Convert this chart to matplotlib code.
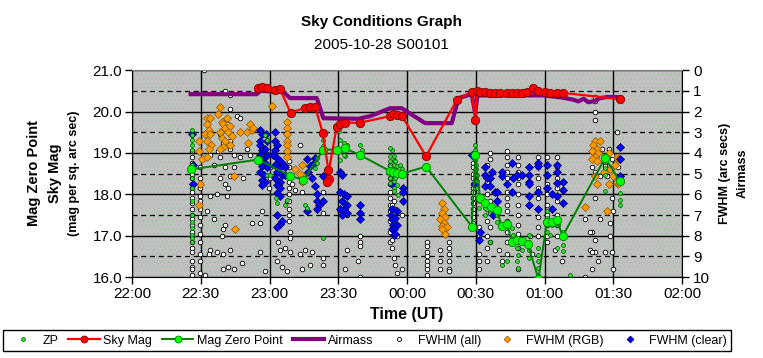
import matplotlib.pyplot as plt
from matplotlib.lines import Line2D
from matplotlib.patches import Rectangle
from matplotlib.ticker import MultipleLocator, FormatStrFormatter

plt.rcParams['font.family'] = ['Liberation Sans', 'DejaVu Sans']
plt.rcParams['hatch.linewidth'] = 0.5

# times are minutes after 22:00 UT
time_ticks = [0, 30, 60, 90, 120, 150, 180, 210, 240]
time_labels = ['22:00', '22:30', '23:00', '23:30', '00:00', '00:30', '01:00', '01:30', '02:00']

# Sky Mag (mag per sq. arc sec)
sky_t = [55.0, 56.6, 58.8, 62.4, 64.6, 69.2, 75.5, 77.7, 79.9, 83.2, 85.7, 86.1, 85.0, 89.3, 90.8, 92.9, 99.5,
         112.6, 114.0, 115.5, 117.7, 128.3, 141.7, 148.3, 149.7, 150.4, 151.9, 154.0, 156.2, 158.4, 160.6,
         163.5, 165.7, 167.9, 170.0, 172.3, 174.8, 177.3, 180.2, 182.4, 185.3, 188.2, 212.9]
sky_mag = [20.57, 20.60, 20.58, 20.53, 20.54, 19.97, 20.09, 20.11, 20.11, 19.49, 18.58, 18.38, 18.30, 19.63, 19.70, 19.73, 19.73,
           19.89, 19.93, 19.91, 19.90, 18.92, 20.28, 20.48, 19.79, 20.49, 20.48, 20.47, 20.46, 20.45, 20.44,
           20.45, 20.45, 20.45, 20.46, 20.48, 20.56, 20.50, 20.47, 20.46, 20.46, 20.45, 20.30]

# Mag Zero Point
mzp_t = [25.6, 55.0, 68.9, 74.8, 83.5, 89.3, 92.9, 99.5, 112.6, 113.9, 115.5, 117.7, 128.3,
         148.3, 149.7, 151.9, 154.0, 156.7, 159.1, 161.3, 163.5, 165.7, 167.9, 170.0, 172.7,
         177.3, 181.0, 183.1, 185.3, 187.9, 206.4, 212.9]
mzp_v = [18.60, 18.84, 18.45, 18.35, 19.08, 19.08, 19.11, 18.95, 18.56, 18.54, 18.52, 18.50, 18.67,
         17.22, 18.95, 17.90, 17.78, 17.70, 17.62, 17.23, 17.28, 16.85, 16.89, 16.88, 16.80,
         15.95, 17.34, 17.32, 17.38, 16.99, 18.88, 18.31]

# Airmass (right axis)
am_t = [25.6, 54.4, 56.0, 66.0, 69.0, 80.6, 83.5, 98.8, 104.0, 112.6, 117.7, 127.9, 139.5, 142.4,
        148.2, 149.7, 150.7, 179.5, 187.5, 192.6, 194.8, 197.0, 199.1, 202.0, 204.2, 207.1, 212.9]
am_v = [1.16, 1.16, 1.0, 1.06, 1.35, 1.35, 2.32, 2.35, 2.22, 1.84, 1.84, 2.56, 2.56, 1.35,
        1.16, 2.08, 1.22, 1.22, 1.32, 1.43, 1.51, 1.38, 1.55, 1.48, 1.35, 1.30, 1.30]

# ZP per frame (time, mag)
zp = [(26.1, 19.56), (26.1, 19.44), (26.1, 19.32), (26.1, 19.20), (26.1, 19.08), (26.1, 18.71), (26.1, 18.39),
      (26.1, 18.15), (26.1, 17.83), (26.1, 17.51), (26.1, 17.34), (26.1, 17.18), (26.1, 17.02), (26.1, 16.94),
      (26.1, 16.86), (58.1, 19.44), (58.8, 19.32), (58.8, 18.47), (60.3, 18.47), (62.9, 17.91), (63.2, 17.79),
      (66.8, 17.75), (67.6, 17.87), (83.5, 19.32), (83.5, 19.16), (83.5, 16.94), (80.6, 18.88), (80.6, 18.76),
      (75.5, 17.75), (76.3, 17.67), (79.9, 18.63), (90.8, 19.32), (92.3, 19.24), (93.7, 19.20), (90.8, 19.04),
      (93.0, 18.92), (90.8, 18.84), (92.3, 18.96), (90.1, 19.52), (99.5, 19.20), (100.3, 19.08),
      (112.6, 18.92), (112.6, 18.80), (112.6, 18.68), (112.6, 18.56), (112.6, 18.39), (112.6, 18.27),
      (114.1, 18.84), (114.1, 18.72), (114.1, 18.60), (114.1, 18.47), (114.1, 18.31), (114.1, 18.15),
      (113.3, 19.08), (114.1, 18.92), (114.8, 18.80), (115.5, 18.68), (116.2, 18.55), (117.0, 18.71),
      (117.7, 18.60), (118.4, 18.47), (114.8, 18.39), (115.5, 18.23), (114.1, 18.07), (116.2, 17.99),
      (112.6, 19.12), (149.7, 19.20), (149.7, 19.08), (149.7, 18.96), (149.7, 18.84), (150.1, 18.71),
      (150.1, 18.60), (150.4, 18.47), (150.7, 18.31), (150.7, 18.15), (150.7, 17.99), (151.2, 17.83),
      (151.2, 17.67), (154.1, 17.67), (154.1, 17.51), (156.3, 16.86), (156.3, 17.59), (159.1, 17.67),
      (159.1, 17.51), (159.1, 17.34), (161.3, 17.22), (165.7, 17.18), (166.4, 17.02), (167.1, 16.86),
      (167.9, 16.70), (168.6, 16.54), (167.9, 16.38), (168.6, 16.22), (170.0, 16.86), (170.0, 16.66),
      (173.0, 17.02), (173.0, 16.86), (173.0, 16.66), (173.0, 16.46), (177.3, 16.70), (177.3, 16.54),
      (177.3, 16.38), (177.3, 16.22), (177.3, 16.06), (181.0, 17.59), (181.0, 17.43), (181.0, 17.27),
      (181.0, 17.10), (182.4, 17.02), (183.1, 17.27), (188.2, 17.10), (188.2, 16.94), (188.2, 16.78),
      (188.2, 16.62), (186.0, 17.27), (185.3, 16.70), (191.1, 16.06), (163.5, 16.38), (161.3, 16.30),
      (206.4, 18.96), (206.4, 18.80), (206.4, 18.63), (206.4, 18.47), (206.4, 18.07), (212.9, 18.03),
      (212.9, 17.87), (212.9, 17.75), (212.9, 18.27)]

# FWHM, all frames (time, arc secs)
fwhm_all = [(26.1, 3.9), (26.1, 4.2), (26.1, 4.5), (26.1, 4.7), (26.1, 5.0), (26.1, 5.2), (26.1, 5.5),
            (26.1, 5.7), (26.1, 5.9), (26.1, 6.2), (26.1, 6.4), (26.1, 6.7), (26.1, 7.0), (26.1, 7.2),
            (26.1, 7.5), (26.1, 7.8), (26.1, 8.0), (26.1, 8.3), (26.1, 8.6), (26.1, 8.8), (26.1, 9.2),
            (26.1, 9.5), (26.1, 9.6), (26.1, 9.9), (29.7, 4.7), (29.7, 5.2), (29.7, 5.7), (29.7, 6.1),
            (29.7, 6.3), (29.7, 6.7), (29.7, 7.1), (29.7, 7.5), (29.7, 7.9), (29.7, 8.3), (29.7, 8.9),
            (29.7, 9.2), (29.7, 9.8), (31.5, 0.0), (40.6, 1.0), (42.8, 1.2),
            (34.1, 4.1), (35.6, 4.6), (38.5, 4.2), (40.6, 4.7), (42.8, 5.1), (38.5, 5.2), (40.6, 5.5),
            (42.1, 5.7), (37.0, 6.0), (41.4, 6.1), (34.1, 6.1), (32.6, 6.8), (35.6, 7.2), (40.6, 7.5),
            (39.9, 7.7), (39.2, 8.0), (34.1, 8.7), (33.4, 8.9), (37.0, 8.8), (39.9, 8.9), (42.8, 8.7),
            (42.1, 9.5), (39.9, 9.6), (44.3, 9.6), (47.9, 9.3), (31.9, 9.9), (45.7, 2.2), (47.2, 2.3),
            (44.3, 4.7), (47.2, 4.2), (50.1, 3.8), (48.6, 5.2), (51.6, 4.1), (52.3, 7.4), (55.9, 7.4),
            (56.6, 6.8), (58.1, 9.7), (63.9, 8.3), (64.7, 8.7), (63.2, 9.2), (65.4, 9.5),
            (38.5, 3.1), (39.9, 3.5), (42.8, 3.8), (37.7, 3.9), (44.3, 4.1), (42.8, 3.4), (42.8, 1.9),
            (41.4, 2.6), (56.6, 5.4), (57.4, 5.5), (59.6, 5.7), (60.3, 4.7), (55.9, 8.8), (60.3, 5.2),
            (64.7, 5.5), (67.6, 6.3), (68.3, 4.4), (68.3, 4.7), (68.3, 5.1), (68.3, 5.4), (68.3, 5.7),
            (68.3, 6.0), (68.3, 6.3), (68.3, 6.7), (68.3, 7.0), (68.3, 7.3), (69.0, 7.8), (69.0, 8.1),
            (69.0, 8.8), (66.8, 8.6), (75.5, 8.7), (73.3, 8.9), (78.4, 8.8), (77.7, 9.4), (74.1, 9.6),
            (67.5, 9.7), (93.7, 8.7), (99.5, 8.0), (99.5, 8.3), (99.5, 8.5), (98.8, 9.2), (99.5, 10.0),
            (93.0, 9.6), (83.5, 9.1), (83.5, 9.4), (73.3, 3.6), (69.7, 5.5), (71.2, 5.8), (74.1, 5.9),
            (83.5, 5.9), (83.5, 6.3), (83.5, 6.9), (90.1, 6.7), (93.7, 7.0),
            (112.6, 4.6), (112.6, 4.9), (112.6, 5.2), (112.6, 5.5), (112.6, 5.9), (112.6, 6.2),
            (112.6, 6.5), (112.6, 6.8), (112.6, 7.3), (112.6, 7.8), (112.6, 8.3), (114.1, 6.3),
            (114.8, 6.7), (117.7, 7.0), (113.3, 6.5), (115.5, 8.0), (113.3, 8.2), (114.1, 9.1),
            (114.8, 9.4), (115.5, 9.8), (117.7, 9.6), (113.3, 8.6),
            (128.6, 8.3), (128.6, 8.5), (128.6, 8.8), (128.6, 9.0), (128.6, 9.2), (128.6, 9.4),
            (128.6, 9.6), (128.6, 9.9), (134.4, 8.7), (134.4, 9.2), (134.4, 9.6), (138.1, 8.3),
            (138.1, 8.6), (138.1, 8.9), (138.1, 9.2), (138.1, 9.6), (138.1, 9.7),
            (148.7, 4.5), (148.7, 4.7), (148.7, 5.0), (148.7, 5.2), (148.7, 5.5), (148.7, 5.7),
            (148.7, 5.9), (148.7, 6.2), (148.7, 6.4), (148.7, 6.7), (148.7, 6.9), (148.7, 7.1),
            (148.7, 7.4), (151.6, 7.6), (151.6, 8.0), (151.6, 8.2), (151.6, 8.9), (151.6, 9.2),
            (151.6, 9.6), (154.8, 4.6), (154.8, 5.4), (154.8, 6.0), (154.8, 6.7), (154.8, 7.3),
            (154.8, 8.0), (154.8, 8.6), (154.8, 9.2), (156.3, 4.0), (156.3, 4.3), (156.3, 6.3),
            (156.3, 6.9), (156.3, 7.6), (156.3, 8.3),
            (163.8, 3.9), (163.8, 4.2), (163.8, 4.6), (163.8, 4.9), (163.8, 5.2), (163.8, 5.5),
            (163.8, 5.9), (163.8, 6.2), (163.8, 6.5), (163.8, 6.8), (163.8, 7.3), (163.8, 7.8),
            (163.8, 8.3), (163.8, 8.9), (168.6, 4.2), (168.6, 4.6), (168.6, 4.9), (168.6, 5.2),
            (168.6, 5.5), (168.6, 6.0), (168.6, 6.5), (168.6, 7.0), (168.6, 7.5), (168.6, 7.9),
            (168.6, 8.6), (168.6, 9.6), (177.3, 4.2), (177.3, 4.7), (177.3, 5.2), (177.3, 5.7),
            (177.3, 6.2), (177.3, 6.7), (177.3, 7.1), (177.3, 7.6), (177.3, 8.0), (181.0, 4.2),
            (181.0, 4.6), (181.0, 5.1), (181.0, 5.5), (181.0, 6.0), (181.0, 6.5), (181.0, 7.0),
            (181.0, 7.5), (181.0, 8.0), (181.0, 8.3), (185.3, 4.2), (185.3, 4.7), (185.3, 5.2),
            (185.3, 5.7), (185.3, 6.3), (185.3, 7.0), (185.3, 7.5), (185.3, 8.0),
            (202.0, 1.3), (202.0, 1.5), (202.0, 2.0), (202.0, 2.4), (200.6, 4.7), (202.0, 4.9),
            (204.2, 5.1), (200.6, 7.8), (202.0, 8.8), (203.5, 9.2), (200.6, 9.6), (197.7, 10.0),
            (159.9, 8.7), (161.3, 9.2), (173.7, 8.0), (174.4, 8.9), (184.6, 8.7), (187.5, 9.2),
            (211.5, 3.0), (204.9, 3.8), (207.9, 3.8), (209.3, 4.1), (209.3, 4.3), (206.4, 4.5),
            (206.4, 4.65), (206.4, 4.8), (206.4, 5.0), (207.1, 5.1), (202.0, 5.1), (212.2, 4.7),
            (210.8, 5.1), (202.0, 6.2), (209.3, 6.2), (210.0, 6.8), (197.7, 7.2), (204.2, 7.2),
            (199.8, 7.8), (208.6, 8.0), (202.0, 8.2), (199.8, 8.7), (200.6, 8.8), (206.4, 8.8),
            (209.3, 8.8), (210.0, 9.6), (208.6, 7.4)]

# FWHM, RGB frames
fwhm_rgb = [(29.4, 3.4), (29.4, 3.9), (30.5, 4.3), (29.7, 5.5), (29.4, 6.5),
            (32.6, 2.3), (34.1, 2.3), (32.6, 2.6), (33.4, 2.9), (31.9, 3.1), (34.1, 3.1), (32.6, 3.4),
            (34.4, 3.6), (33.4, 3.8), (32.6, 4.2), (38.5, 1.8), (37.7, 2.1), (39.2, 2.5), (39.9, 2.6),
            (41.4, 2.3), (40.6, 2.8), (38.5, 3.0), (42.8, 2.7), (42.1, 3.0), (43.6, 3.2), (39.2, 3.3),
            (40.6, 3.4), (39.9, 3.7), (42.8, 3.6), (38.5, 3.8), (44.3, 5.1), (45.0, 7.7),
            (47.2, 3.0), (50.1, 3.0), (51.6, 2.6), (52.3, 2.9), (50.8, 3.5), (53.0, 2.8), (61.0, 1.75),
            (67.5, 2.5), (67.5, 2.8), (67.5, 3.1), (67.5, 3.4), (67.5, 3.6), (67.5, 3.9), (67.5, 4.2),
            (71.2, 4.8), (74.1, 4.6), (74.8, 5.1), (74.1, 5.4), (73.3, 5.0),
            (135.2, 6.4), (135.9, 6.7), (135.2, 6.9), (136.6, 7.1), (134.4, 7.2), (135.9, 7.4),
            (135.2, 7.55), (137.3, 7.6), (136.6, 7.9), (135.2, 7.7),
            (202.0, 3.4), (204.2, 3.4), (201.3, 3.6), (202.8, 3.8), (200.6, 3.9), (203.5, 4.0),
            (202.0, 4.2), (200.6, 4.3), (202.8, 4.4), (202.0, 5.1), (202.8, 5.5), (197.7, 6.6),
            (207.9, 4.0), (205.7, 4.9), (207.9, 5.5), (208.6, 4.8), (210.8, 4.6), (211.5, 4.2),
            (212.2, 4.3), (212.2, 5.5), (207.1, 6.8), (210.0, 5.1), (211.5, 5.4)]

# FWHM, clear frames
fwhm_clear = [(26.1, 3.1), (26.8, 4.6), (26.4, 5.5),
              (55.9, 2.9), (56.6, 3.1), (55.9, 3.4), (58.5, 3.1), (55.9, 3.6), (56.6, 3.85), (58.1, 3.8),
              (55.9, 4.1), (57.4, 4.25), (55.9, 4.4), (58.1, 4.5), (56.6, 4.65), (58.8, 4.7), (55.9, 4.9),
              (57.4, 5.05), (56.6, 5.3), (58.1, 5.4), (56.6, 5.55), (59.1, 3.4), (59.1, 4.1),
              (62.5, 3.0), (62.5, 3.4), (63.2, 3.6), (62.5, 3.85), (61.7, 4.1), (63.2, 4.25), (64.7, 4.4),
              (62.5, 4.6), (64.7, 4.7), (63.2, 4.9), (65.4, 5.05), (62.5, 5.2), (64.7, 5.4), (63.2, 5.55),
              (64.7, 5.7), (63.2, 5.95), (64.7, 6.1), (63.2, 7.0), (64.7, 7.45), (63.2, 7.6), (65.4, 7.3),
              (66.1, 4.6), (66.8, 4.7), (66.8, 5.05),
              (76.3, 4.3), (77.7, 4.65), (79.2, 4.5), (77.0, 4.9), (78.4, 5.2), (79.9, 5.6), (80.6, 6.0),
              (80.6, 6.3), (81.4, 6.5), (80.6, 6.7), (76.3, 6.8), (83.5, 6.3), (83.5, 5.1), (79.9, 4.25),
              (90.8, 4.9), (91.5, 5.05), (90.8, 5.9), (92.3, 6.0), (93.7, 6.1), (91.5, 6.3), (93.7, 6.5),
              (92.3, 6.7), (93.7, 6.9), (90.8, 6.7), (91.5, 7.0), (99.5, 6.5), (99.5, 6.9), (99.5, 7.2),
              (113.4, 6.7), (113.1, 7.0), (113.4, 7.2), (113.7, 7.5), (113.4, 7.7), (114.1, 7.95),
              (118.4, 5.7), (118.4, 5.9), (118.4, 6.3), (114.8, 7.15), (115.5, 7.5), (114.1, 7.7),
              (114.8, 7.9), (113.3, 5.5), (115.5, 6.8),
              (148.2, 4.1), (149.7, 5.5), (151.9, 7.8), (151.2, 8.2),
              (154.1, 4.7), (154.1, 5.05), (154.8, 5.2), (154.1, 5.6), (156.3, 5.2), (157.0, 4.9),
              (156.3, 5.6), (158.4, 5.9), (159.2, 6.3), (157.0, 6.7), (157.7, 7.0),
              (161.3, 4.9), (161.3, 5.1), (163.5, 5.5), (165.7, 4.5), (166.4, 5.2), (165.7, 5.9),
              (167.9, 5.05), (170.0, 5.05), (173.0, 4.7), (173.0, 5.05), (173.0, 5.4), (173.0, 5.5),
              (173.0, 6.1), (173.0, 6.5), (177.3, 4.5), (177.3, 4.65), (177.3, 5.9), (177.3, 6.7),
              (181.0, 4.6), (181.0, 5.05), (181.0, 5.7), (183.1, 6.0), (185.3, 4.6), (185.3, 4.9),
              (185.3, 5.45), (185.3, 6.1), (188.2, 5.4), (188.2, 5.8), (188.2, 6.4), (183.1, 6.7),
              (159.1, 5.9), (159.1, 6.3), (159.1, 6.7),
              (212.9, 3.7), (212.9, 4.3), (212.9, 5.1)]


# right axis: FWHM / airmass 0..10 runs downward over mag 21..16
def mag_to_right(m):
    return (21 - m) * 2


def right_to_mag(f):
    return 21 - f / 2


fig = plt.figure(figsize=(7.63, 3.58), dpi=100)
ax = fig.add_axes([0.173, 0.226, 0.721, 0.578])
ax.set_facecolor('#c0c0c0')
ax.add_patch(Rectangle((0, 0), 1, 1, transform=ax.transAxes, facecolor='none',
                       edgecolor='#a4c4a4', hatch='....', lw=0, zorder=0.1))
ax.set_xlim(0, 240)
ax.set_ylim(16, 21)
ax.set_axisbelow(True)

ax.set_xticks(time_ticks)
ax.set_xticklabels(time_labels)
ax.yaxis.set_major_locator(MultipleLocator(1))
ax.yaxis.set_minor_locator(MultipleLocator(0.5))
ax.yaxis.set_major_formatter(FormatStrFormatter('%.1f'))
ax.grid(True, which='major', color='black', lw=1)
ax.grid(True, which='minor', axis='y', color='black', lw=0.9, ls=(0, (4, 3)))
ax.tick_params(which='major', direction='out', length=5, width=1, labelsize=11, pad=2)
ax.tick_params(which='minor', length=0)
ax.spines['top'].set_color('#808080')
ax.spines['right'].set_visible(False)

sec = ax.secondary_yaxis('right', functions=(mag_to_right, right_to_mag))
sec.set_yticks(range(11))
sec.tick_params(direction='out', length=5, width=1, labelsize=11, pad=3)

t, v = zip(*fwhm_all)
ax.plot(t, [right_to_mag(x) for x in v], ls='none', marker='o', ms=3.3, mfc='white', mec='black', mew=0.6, zorder=2)
t, v = zip(*fwhm_rgb)
ax.plot(t, [right_to_mag(x) for x in v], ls='none', marker='D', ms=4.2, mfc='#ff9900', mec='#8a5a00', mew=0.5, zorder=3)
t, v = zip(*fwhm_clear)
ax.plot(t, [right_to_mag(x) for x in v], ls='none', marker='D', ms=4.2, mfc='#0000ff', mec='#000060', mew=0.5, zorder=4)
t, v = zip(*zp)
ax.plot(t, v, ls='none', marker='o', ms=2.8, mfc='#33dd33', mec='#005500', mew=0.5, zorder=4.5)

ax.plot(am_t, [right_to_mag(x) for x in am_v], color='#800080', lw=3, zorder=5)
ax.plot(mzp_t, mzp_v, color='#008000', lw=1.4, marker='o', ms=6, mfc='#00ff00', mec='#008000', mew=0.6, zorder=6)
ax.plot(sky_t, sky_mag, color='#ff0000', lw=1.6, marker='o', ms=6, mfc='#ff0000', mec='#800000', mew=0.6, zorder=7)

# titles and axis labels
fig.text(0.5, 1 - 22 / 358, 'Sky Conditions Graph', ha='center', va='center', fontsize=11, fontweight='bold')
fig.text(0.5, 1 - 45 / 358, '2005-10-28 S00101', ha='center', va='center', fontsize=11)
fig.text(34 / 763, 1 - 173 / 358, 'Mag Zero Point', rotation=90, ha='center', va='center', fontsize=10.5, fontweight='bold')
fig.text(55 / 763, 1 - 173 / 358, 'Sky Mag', rotation=90, ha='center', va='center', fontsize=10.5, fontweight='bold')
fig.text(74 / 763, 1 - 173 / 358, '(mag per sq. arc sec)', rotation=90, ha='center', va='center', fontsize=9, fontweight='bold')
fig.text(725 / 763, 1 - 173 / 358, 'FWHM (arc secs)', rotation=90, ha='center', va='center', fontsize=9, fontweight='bold')
fig.text(743 / 763, 1 - 173 / 358, 'Airmass', rotation=90, ha='center', va='center', fontsize=9, fontweight='bold')
fig.text(407 / 763, 1 - 314 / 358, 'Time (UT)', ha='center', va='center', fontsize=11.5, fontweight='bold')

handles = [
    Line2D([], [], ls='none', marker='o', ms=2.8, mfc='#33dd33', mec='#005500', mew=0.5),
    Line2D([], [], color='#ff0000', lw=1.6, marker='o', ms=5, mfc='#ff0000', mec='#800000', mew=0.6),
    Line2D([], [], color='#008000', lw=1.4, marker='o', ms=5, mfc='#00ff00', mec='#008000', mew=0.6),
    Line2D([], [], color='#800080', lw=3),
    Line2D([], [], ls='none', marker='o', ms=3, mfc='white', mec='black', mew=0.6),
    Line2D([], [], ls='none', marker='D', ms=3.5, mfc='#ff9900', mec='#8a5a00', mew=0.5),
    Line2D([], [], ls='none', marker='D', ms=3.5, mfc='#0000ff', mec='#000060', mew=0.5),
]
labels = ['ZP', 'Sky Mag', 'Mag Zero Point', 'Airmass', 'FWHM (all)', 'FWHM (RGB)', 'FWHM (clear)']
leg = fig.legend(handles, labels, ncol=7, loc='lower left', mode='expand',
                 bbox_to_anchor=(3 / 763, 1 - 351 / 358, 728 / 763, 24 / 358),
                 fontsize=9, frameon=True, fancybox=False, framealpha=1, edgecolor='black',
                 handlelength=2.5, handletextpad=0.3, columnspacing=0.6, borderpad=0.35, borderaxespad=0)
leg.get_frame().set_linewidth(1)

fig.savefig('out.png', dpi=100)
